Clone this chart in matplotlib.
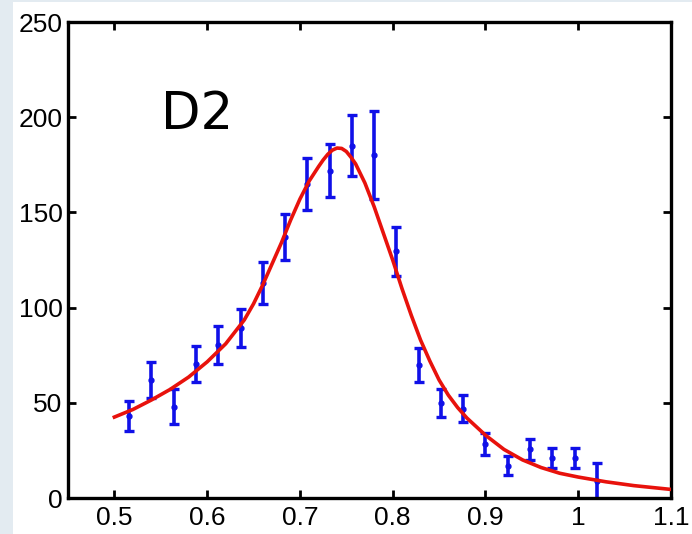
import matplotlib.pyplot as plt
from matplotlib.patches import Rectangle

# measured points (x, counts, error)
x_data = [0.516, 0.540, 0.564, 0.588, 0.612, 0.636, 0.660, 0.684, 0.708, 0.732, 0.756,
          0.780, 0.804, 0.828, 0.852, 0.876, 0.900, 0.924, 0.948, 0.972, 0.996, 1.020]
y_data = [43, 62, 48, 70.5, 80.5, 89.5, 113, 137, 165, 172, 185,
          180, 129.5, 70, 50, 47, 28.5, 17, 25.5, 21, 21, 9]
y_err = [8, 9.5, 9, 9.5, 10, 10, 11, 12, 13.5, 14, 16,
         23, 13, 9, 7.5, 7, 5.7, 4.8, 5.5, 5, 5.5, 9.5]

# fitted curve
x_fit = [0.50, 0.52, 0.54, 0.56, 0.58, 0.60, 0.62, 0.64, 0.65, 0.66, 0.67, 0.68, 0.69,
         0.70, 0.71, 0.72, 0.725, 0.73, 0.735, 0.74, 0.745, 0.75, 0.755, 0.76, 0.77,
         0.78, 0.79, 0.80, 0.81, 0.82, 0.83, 0.84, 0.85, 0.86, 0.87, 0.88, 0.90, 0.92,
         0.94, 0.96, 0.98, 1.00, 1.03, 1.06, 1.10]
y_fit = [42.5, 46.5, 51.5, 57, 63.5, 71.5, 81, 93.5, 102, 112, 123, 134, 146,
         157, 166.5, 174, 177.5, 180.5, 182.7, 183.8, 183.6, 182, 179, 175.5, 165.5,
         153, 139, 125, 110, 96, 83, 72, 62, 54, 47.5, 42, 33, 25.5,
         20, 16, 13, 11, 8.5, 6.5, 4.5]

fig = plt.figure(figsize=(6.92, 5.34), dpi=100, facecolor='#e3ebf1')
fig.patches.append(Rectangle((13 / 692, 0), 1, 1 - 2 / 534, transform=fig.transFigure,
                             facecolor='white', edgecolor='none', zorder=-1))
ax = fig.add_axes([68 / 692, 36 / 534, 603 / 692, 476 / 534])

ax.plot(x_fit, y_fit, color='#e8120c', linewidth=2.6, zorder=3)
ax.errorbar(x_data, y_data, yerr=y_err, fmt='o', color='#1010e8', markersize=3.5,
            elinewidth=2.6, capsize=3.6, capthick=2.4, zorder=2)

ax.text(0.589, 201, 'D2', fontsize=37, ha='center', va='center')

ax.set_xlim(0.45, 1.1)
ax.set_ylim(0, 250)
ax.set_xticks([0.5, 0.6, 0.7, 0.8, 0.9, 1.0, 1.1])
ax.set_xticklabels(['0.5', '0.6', '0.7', '0.8', '0.9', '1', '1.1'])
ax.set_yticks([0, 50, 100, 150, 200, 250])

for s in ax.spines.values():
    s.set_linewidth(2.4)
ax.tick_params(direction='in', top=True, right=True, length=6, width=2,
               labelsize=19)
ax.tick_params(axis='x', pad=6)
ax.tick_params(axis='y', pad=4)
for lab in ax.get_xticklabels() + ax.get_yticklabels():
    lab.set_fontfamily('Liberation Sans')

fig.savefig('out.png', dpi=100, facecolor=fig.get_facecolor())
